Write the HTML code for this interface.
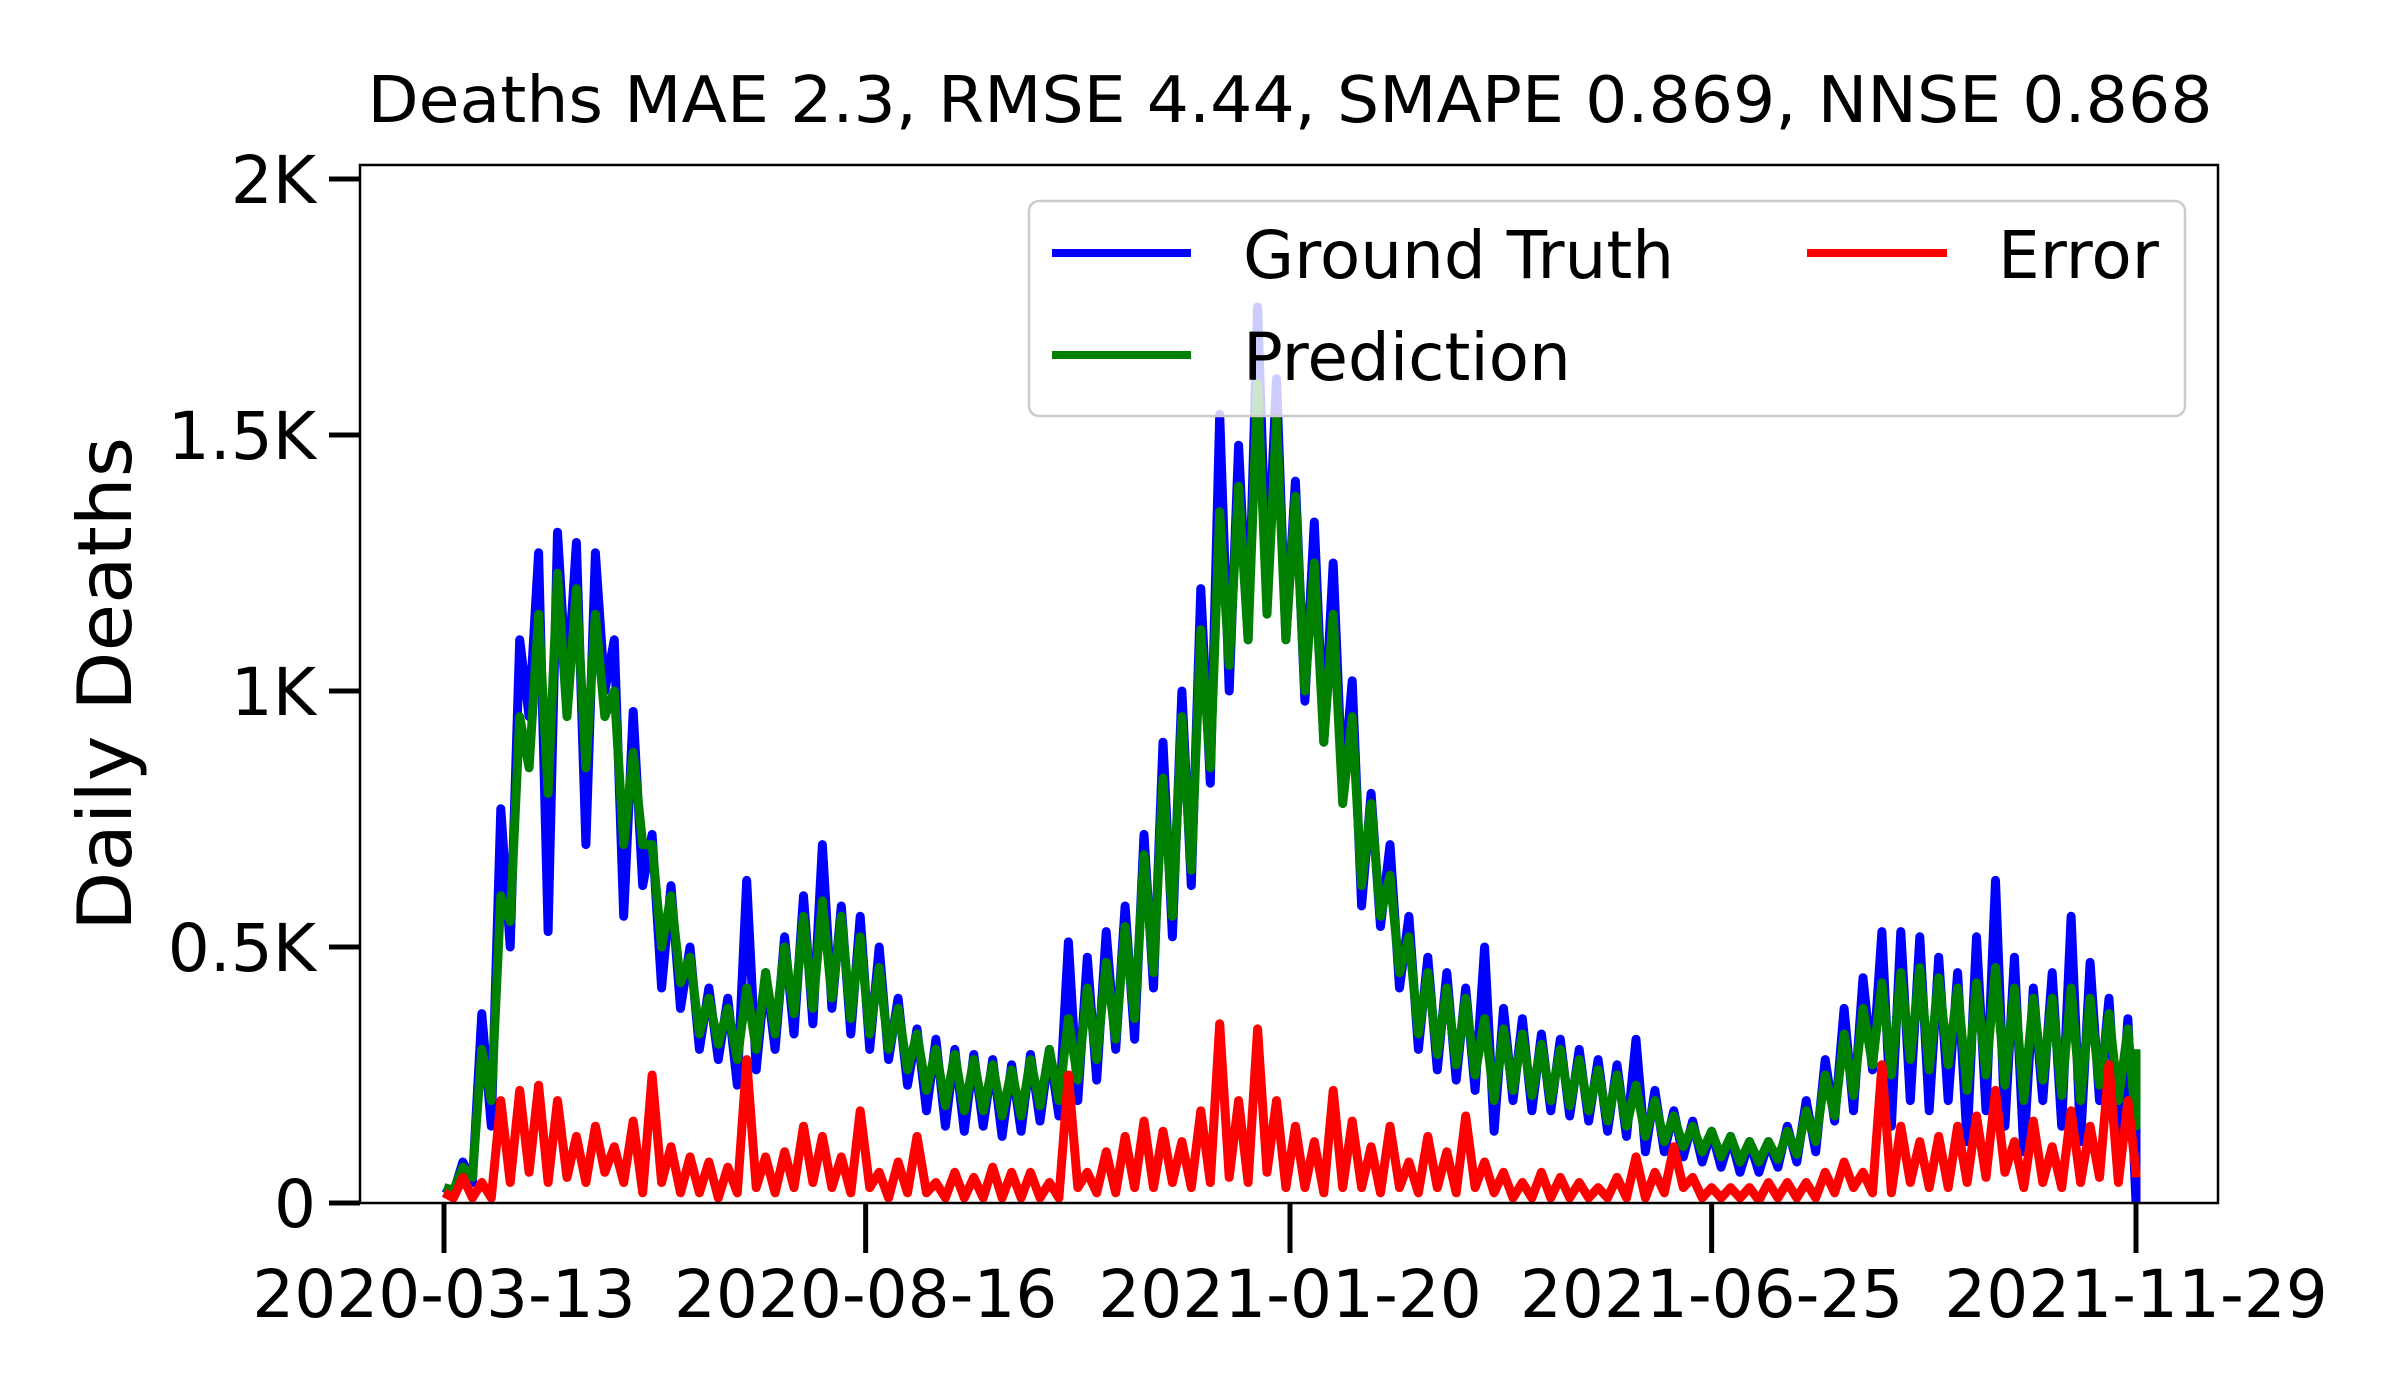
<!DOCTYPE html>
<html><head><meta charset="utf-8"><style>html,body{margin:0;padding:0;background:#fff}svg{display:block}</style></head>
<body>
<svg id="chart" width="2400" height="1400" xmlns="http://www.w3.org/2000/svg" font-family="DejaVu Sans, Liberation Sans, sans-serif">
<rect width="2400" height="1400" fill="#fff"/>
<defs><clipPath id="plotclip"><rect x="360" y="165" width="1858" height="1038"/></clipPath></defs>
<text x="1290" y="122" font-size="64" text-anchor="middle" textLength="1845" lengthAdjust="spacingAndGlyphs">Deaths MAE 2.3, RMSE 4.44, SMAPE 0.869, NNSE 0.868</text>
<text transform="translate(131,684) rotate(-90)" font-size="75" text-anchor="middle" textLength="494" lengthAdjust="spacingAndGlyphs">Daily Deaths</text>
<g id="series" clip-path="url(#plotclip)"></g>
<rect x="360" y="165" width="1858" height="1038" fill="none" stroke="#000" stroke-width="2.5"/>
<g id="axes"></g>
<g>
<rect x="1029" y="201" width="1156" height="215" rx="10" fill="#fff" fill-opacity="0.8" stroke="#ccc" stroke-width="2.5"/>
<line x1="1052" y1="253" x2="1191" y2="253" stroke="#0000ff" stroke-width="8"/>
<text x="1243" y="278" font-size="66">Ground Truth</text>
<line x1="1052" y1="355" x2="1191" y2="355" stroke="#008000" stroke-width="8"/>
<text x="1243" y="380" font-size="66">Prediction</text>
<line x1="1807" y1="253" x2="1947" y2="253" stroke="#ff0000" stroke-width="8"/>
<text x="1998" y="278" font-size="66">Error</text>
</g>
</svg>
<script>
// each value is spaced 3.5 days apart starting 2020-03-13
const stepDays = 3.5;
const truth = [30,20,80,40,370,150,770,500,1100,950,1270,530,1310,1000,1290,700,1270,1000,1100,560,960,620,720,420,620,380,500,300,420,280,400,230,630,260,450,300,520,330,600,350,700,380,580,330,560,300,500,280,400,230,340,180,320,150,300,140,290,150,280,130,270,140,290,160,300,170,510,200,480,240,530,300,580,320,720,420,900,520,1000,620,1200,820,1540,1000,1480,1100,1750,1200,1610,1100,1410,980,1330,900,1250,800,1020,580,800,540,700,420,560,300,480,260,450,240,420,220,500,140,380,200,360,180,330,180,320,170,300,160,280,140,270,130,320,100,220,100,180,90,160,80,140,70,130,60,120,60,120,70,150,80,200,100,280,160,380,180,440,260,530,150,530,200,520,180,480,200,450,120,520,180,630,150,480,100,420,200,450,150,560,120,470,200,400,100,360,0,300];
const prediction = [30,25,70,50,300,200,600,550,950,850,1150,800,1230,950,1200,850,1150,950,1000,700,880,700,700,500,600,430,480,330,400,310,380,280,420,300,450,330,500,370,560,380,590,400,560,360,520,330,460,300,380,260,330,220,300,190,290,180,280,180,270,170,260,170,280,190,300,200,360,240,420,280,470,320,540,360,680,450,830,560,950,650,1120,850,1350,1050,1400,1100,1600,1150,1530,1100,1380,1000,1250,900,1150,780,950,620,780,560,640,450,520,330,450,290,420,270,400,250,360,200,340,220,330,210,310,200,300,190,280,180,260,160,250,150,230,130,200,120,170,110,150,100,140,90,130,80,120,80,120,85,140,95,180,120,250,170,330,210,380,270,430,250,450,280,460,260,440,270,420,220,430,250,460,230,420,200,400,240,400,210,420,200,400,230,370,200,340,150,300];
const errorVals = [20,10,50,10,40,10,200,40,220,60,230,40,200,50,130,40,150,60,110,40,160,20,250,40,110,20,90,20,80,10,70,20,280,30,90,20,100,30,150,40,130,30,90,20,180,30,60,10,80,20,130,20,40,10,60,10,50,10,70,10,60,10,60,10,40,10,250,30,60,20,100,20,130,30,160,30,140,40,120,30,180,40,350,50,200,40,340,60,200,30,150,30,120,20,220,30,160,30,110,20,150,30,80,20,130,30,100,20,170,30,80,20,60,10,40,10,60,10,50,10,40,10,30,10,50,10,90,10,60,20,110,30,50,10,30,10,30,10,30,5,40,10,40,10,40,10,60,20,80,30,60,20,270,20,150,40,120,30,130,30,150,40,170,50,220,60,120,30,160,40,110,30,180,40,150,50,270,40,200,60,50];
const xTickLabels = ['2020-03-13','2020-08-16','2021-01-20','2021-06-25','2021-11-29'];
const xTickDays = [0,156,313,469,626];
const yTickValues = [0,500,1000,1500,2000];
const yTickLabels = ['0','0.5K','1K','1.5K','2K'];

const NS = 'http://www.w3.org/2000/svg';
const X0 = 444, X1 = 2136, DMAX = 626, YB = 1203, YT = 179, VMAX = 2000;
function xScale(d){ return X0 + d * (X1 - X0) / DMAX; }
function yScale(v){ return YB - v * (YB - YT) / VMAX; }

const seriesG = document.getElementById('series');
function drawSeries(vals, color, name){
  const pts = vals.map((v,i) => xScale(Math.min(i*stepDays, DMAX)).toFixed(1) + ',' + yScale(v).toFixed(1)).join(' ');
  const pl = document.createElementNS(NS,'polyline');
  pl.setAttribute('points', pts);
  pl.setAttribute('fill','none');
  pl.setAttribute('stroke', color);
  pl.setAttribute('stroke-width','9');
  pl.setAttribute('stroke-linejoin','round');
  
  
  seriesG.appendChild(pl);
}
drawSeries(truth, '#0000ff', 'ground-truth-line');
drawSeries(prediction, '#008000', 'prediction-line');
drawSeries(errorVals, '#ff0000', 'error-line');

const axesG = document.getElementById('axes');
xTickDays.forEach((d,i) => {
  const x = xScale(d);
  const t = document.createElementNS(NS,'line');
  t.setAttribute('x1',x); t.setAttribute('x2',x); t.setAttribute('y1',YB); t.setAttribute('y2',YB+50);
  t.setAttribute('stroke','#000'); t.setAttribute('stroke-width','5');
  
  
  axesG.appendChild(t);
  const tx = document.createElementNS(NS,'text');
  tx.setAttribute('x',x); tx.setAttribute('y',1317);
  tx.setAttribute('font-size','66'); tx.setAttribute('text-anchor','middle');
  tx.textContent = xTickLabels[i];
  
  
  axesG.appendChild(tx);
});
yTickValues.forEach((v,i) => {
  const y = yScale(v);
  const t = document.createElementNS(NS,'line');
  t.setAttribute('x1',329); t.setAttribute('x2',360); t.setAttribute('y1',y); t.setAttribute('y2',y);
  t.setAttribute('stroke','#000'); t.setAttribute('stroke-width','5');
  
  
  axesG.appendChild(t);
  const tx = document.createElementNS(NS,'text');
  tx.setAttribute('x',316); tx.setAttribute('y',y+24);
  tx.setAttribute('font-size','66'); tx.setAttribute('text-anchor','end');
  tx.textContent = yTickLabels[i];
  
  
  axesG.appendChild(tx);
});
</script>
</body></html>
